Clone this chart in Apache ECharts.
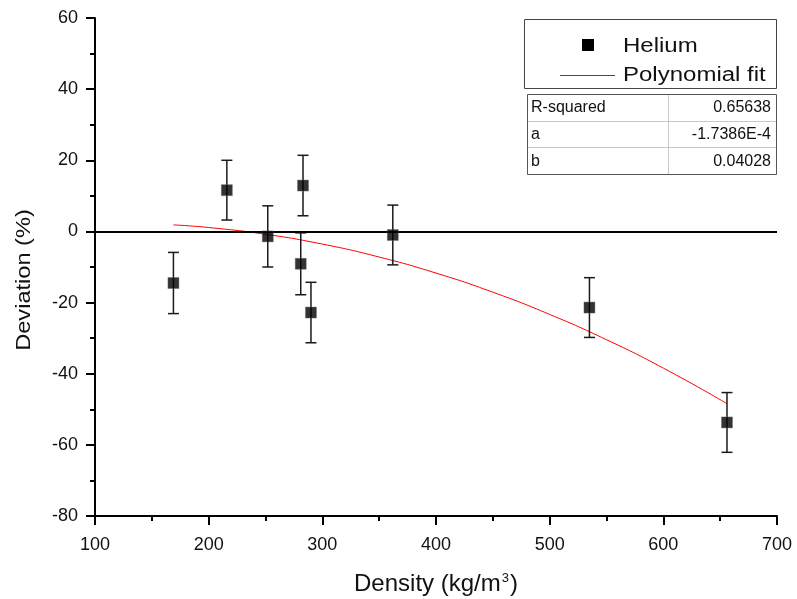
<!DOCTYPE html>
<html>
<head>
<meta charset="utf-8">
<script src="https://cdn.jsdelivr.net/npm/echarts@6/dist/echarts.min.js"></script>
<style>
  html, body { margin: 0; padding: 0; background: #fff; }
  #chart { width: 797px; height: 599px; }
</style>
</head>
<body>
<div id="chart"></div>
<script>
// Measured helium density and its deviation from the reference equation
const density   = [169, 216, 252, 283, 281, 290, 362, 535, 656];
const deviation = [-14.5, 11.6, -1.4, 12.9, -9.1, -22.8, -1.0, -21.4, -53.7];
const errorBar  = [8.6, 8.4, 8.6, 8.5, 8.7, 8.5, 8.4, 8.4, 8.4];

// Polynomial fit curve, sampled along the density range
const fitX = [169, 200, 250, 300, 350, 400, 450, 500, 550, 600, 656];
const fitY = [1.84, 1.10, -0.80, -3.56, -7.20, -11.71, -17.08, -23.33, -30.44, -38.42, -48.40];

// Fit statistics table
const statNames  = ['R-squared', 'a', 'b'];
const statValues = ['0.65638', '-1.7386E-4', '0.04028'];

const xTicks = { min: 100, max: 700, interval: 100 };
const yTicks = { min: -80, max: 60, interval: 20 };

const FONT = '"Liberation Sans", Arial, sans-serif';

const chart = echarts.init(document.getElementById('chart'), null, { renderer: 'canvas' });

const points = density.map((d, i) => [d, deviation[i]]);
const errData = density.map((d, i) => [d, deviation[i] - errorBar[i], deviation[i] + errorBar[i]]);
const fitData = fitX.map((x, i) => [x, fitY[i]]);

// Statistics table below the legend
const tbl = { left: 527, top: 94, right: 776, rowH: 26.7, split: 668 };
const tableGraphics = [];
statNames.forEach((name, i) => {
  const y = tbl.top + i * tbl.rowH;
  tableGraphics.push({
    type: 'text', x: tbl.left + 4, y: y + tbl.rowH / 2 + 0.5,
    style: { text: name, font: '16px ' + FONT, fill: '#111', verticalAlign: 'middle' }
  });
  tableGraphics.push({
    type: 'text', x: tbl.right - 5, y: y + tbl.rowH / 2 + 0.5,
    style: { text: statValues[i], font: '16px ' + FONT, fill: '#111', align: 'right', verticalAlign: 'middle' }
  });
  if (i > 0) {
    tableGraphics.push({
      type: 'rect', shape: { x: tbl.left, y: Math.round(y), width: tbl.right - tbl.left, height: 1 },
      style: { fill: '#c8c8c8' }
    });
  }
});
tableGraphics.push({
  type: 'rect', shape: { x: tbl.split, y: tbl.top, width: 1, height: 3 * tbl.rowH },
  style: { fill: '#c8c8c8' }
});
tableGraphics.push({
  type: 'rect', shape: { x: tbl.left + 0.5, y: tbl.top + 0.5, width: tbl.right - tbl.left, height: Math.round(3 * tbl.rowH) },
  style: { fill: 'none', stroke: '#555', lineWidth: 1 }
});

const option = {
  backgroundColor: '#fff',
  animation: false,
  grid: { left: 95, right: 20, top: 18, bottom: 83, outerBoundsMode: 'none', containLabel: false },
  xAxis: {
    type: 'value',
    min: xTicks.min, max: xTicks.max, interval: xTicks.interval,
    name: 'Density (kg/m{sup|3})',
    nameLocation: 'middle', nameGap: 56,
    nameTextStyle: {
      fontFamily: FONT, fontSize: 24, color: '#111',
      rich: { sup: { fontFamily: FONT, fontSize: 13, color: '#111', verticalAlign: 'top', padding: [0, 1, 11, 1] } }
    },
    axisLine: { show: true, onZero: false, lineStyle: { color: '#000', width: 2 } },
    axisTick: { show: true, inside: false, length: 9, lineStyle: { color: '#000', width: 2 } },
    minorTick: { show: true, splitNumber: 2, length: 5, lineStyle: { color: '#000', width: 2 } },
    axisLabel: { fontFamily: FONT, fontSize: 18, color: '#111', margin: 20 },
    splitLine: { show: false }
  },
  yAxis: {
    type: 'value',
    min: yTicks.min, max: yTicks.max, interval: yTicks.interval,
    axisLine: { show: true, onZero: false, lineStyle: { color: '#000', width: 2 } },
    axisTick: { show: true, inside: false, length: 9, lineStyle: { color: '#000', width: 2 } },
    minorTick: { show: true, splitNumber: 2, length: 5, lineStyle: { color: '#000', width: 2 } },
    axisLabel: { fontFamily: FONT, fontSize: 18, color: '#111', margin: 17 },
    splitLine: { show: false }
  },
  series: [
    {
      name: 'Polynomial fit',
      type: 'line',
      data: fitData,
      smooth: true,
      showSymbol: false,
      lineStyle: { color: '#ff0000', width: 1 },
      z: 3,
      markLine: {
        silent: true,
        symbol: 'none',
        label: { show: false },
        lineStyle: { color: '#000', width: 2, type: 'solid' },
        data: [{ yAxis: 0 }]
      }
    },
    {
      name: 'Error',
      type: 'custom',
      data: errData,
      z: 4,
      renderItem: function (params, api) {
        const x = api.value(0);
        const lo = api.coord([x, api.value(1)]);
        const hi = api.coord([x, api.value(2)]);
        const cap = 5.5;
        const style = { stroke: '#1a1a1a', lineWidth: 1.5 };
        return {
          type: 'group',
          children: [
            { type: 'line', shape: { x1: lo[0], y1: lo[1], x2: hi[0], y2: hi[1] }, style: style },
            { type: 'line', shape: { x1: lo[0] - cap, y1: lo[1], x2: lo[0] + cap, y2: lo[1] }, style: style },
            { type: 'line', shape: { x1: hi[0] - cap, y1: hi[1], x2: hi[0] + cap, y2: hi[1] }, style: style }
          ]
        };
      }
    },
    {
      name: 'Helium',
      type: 'scatter',
      data: points,
      symbol: 'rect',
      symbolSize: 11,
      itemStyle: { color: '#000', borderColor: '#666', borderWidth: 0.5 },
      z: 5
    }
  ],
  graphic: [
    // Y axis title
    {
      type: 'text', x: 24, y: 280, rotation: Math.PI / 2, scaleX: 1.18,
      style: { text: 'Deviation (%)', font: '20px ' + FONT, fill: '#111', align: 'center', verticalAlign: 'middle' }
    },
    // Legend box
    {
      type: 'rect',
      shape: { x: 524.5, y: 19.5, width: 252, height: 69 },
      style: { fill: '#fff', stroke: '#444', lineWidth: 1 }
    },
    {
      type: 'rect',
      shape: { x: 582, y: 39, width: 12, height: 12 },
      style: { fill: '#000' }
    },
    {
      type: 'text', x: 623, y: 46.5, scaleX: 1.2,
      style: { text: 'Helium', font: '20px ' + FONT, fill: '#111', verticalAlign: 'middle' }
    },
    {
      type: 'rect',
      shape: { x: 560, y: 75, width: 55, height: 1 },
      style: { fill: '#ff0000' }
    },
    {
      type: 'text', x: 623, y: 75, scaleX: 1.2,
      style: { text: 'Polynomial fit', font: '20px ' + FONT, fill: '#111', verticalAlign: 'middle' }
    }
  ].concat(tableGraphics)
};

chart.setOption(option);
</script>
</body>
</html>
